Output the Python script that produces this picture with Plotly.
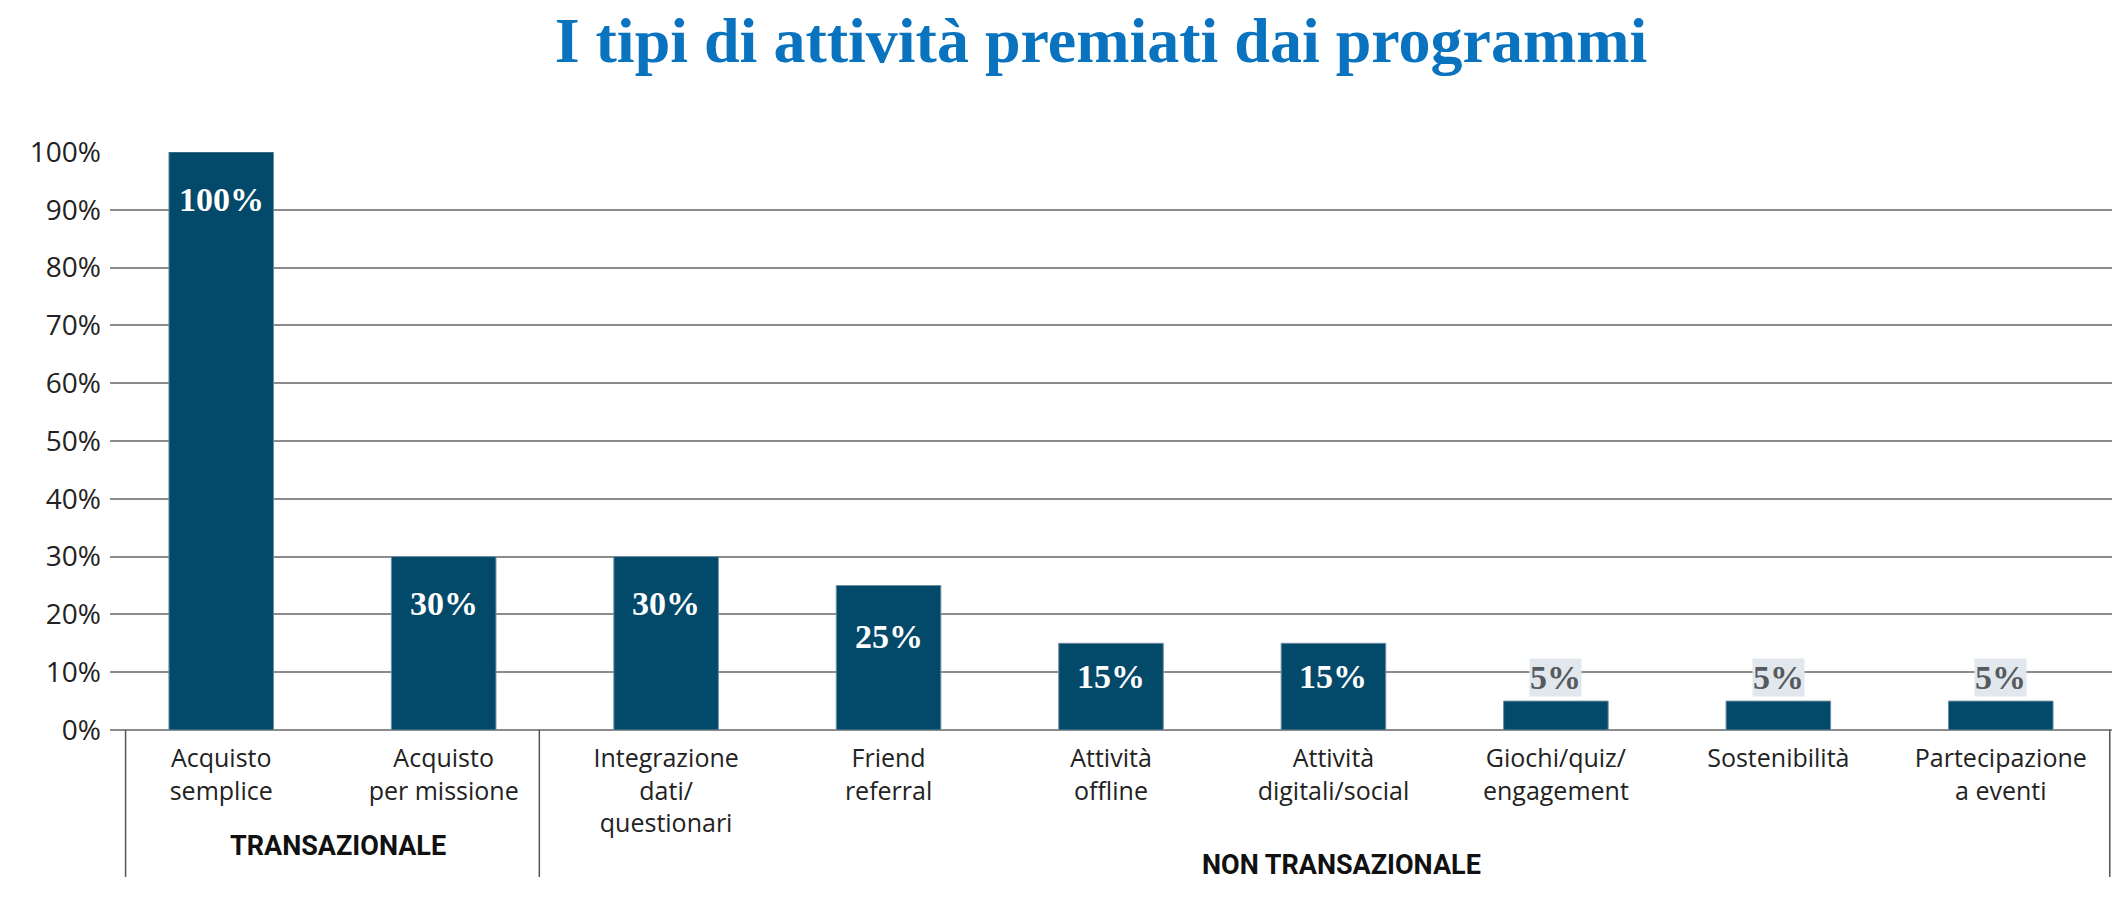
import plotly.graph_objects as go

categories = ["Acquisto<br>semplice", "Acquisto<br>per missione", "Integrazione<br>dati/<br>questionari",
              "Friend<br>referral", "Attività<br>offline", "Attività<br>digitali/social",
              "Giochi/quiz/<br>engagement", "Sostenibilità", "Partecipazione<br>a eventi"]
values = [100, 30, 30, 25, 15, 15, 5, 5, 5]
value_labels = ["100%", "30%", "30%", "25%", "15%", "15%", "5%", "5%", "5%"]
y_ticks = [0, 10, 20, 30, 40, 50, 60, 70, 80, 90, 100]
y_tick_labels = [f"{v}%" for v in y_ticks]
groups = ["TRANSAZIONALE", "NON TRANSAZIONALE"]

W, H = 2112, 901
L, R, T, B = 110, 0, 152, 171
BAR = "#03496A"

x_idx = list(range(len(categories)))

fig = go.Figure()
fig.add_trace(go.Bar(
    x=x_idx, y=values, width=0.47,
    marker=dict(color=BAR, line=dict(color="#6f8ea2", width=1)),
    hoverinfo="skip",
))

annotations = []
for i, (v, lab) in enumerate(zip(values, value_labels)):
    if v >= 10:
        shift = -47 if v >= 30 else (-51 if v >= 20 else -33)
        annotations.append(dict(x=i, y=v, xref="x", yref="y", text=f"<b>{lab}</b>", showarrow=False,
                                yanchor="middle", yshift=shift,
                                font=dict(family="Liberation Serif, serif", size=34, color="white")))
    else:
        annotations.append(dict(x=i, y=v, xref="x", yref="y", text=f"<b>{lab}</b>", showarrow=False,
                                yanchor="bottom", yshift=4, bgcolor="#e1e7ed", borderpad=0,
                                font=dict(family="Liberation Serif, serif", size=34, color="#555a5e")))

plot_h = H - T - B
def py(pix):
    return (H - B - pix) / plot_h

def px(pix):
    return (pix - L) / (W - L - R)

annotations.append(dict(x=px(338), y=py(846), xref="paper", yref="paper", text=f"<b>{groups[0]}</b>",
                        showarrow=False, xanchor="center", yanchor="middle",
                        font=dict(family="Liberation Sans Narrow, Roboto, sans-serif", size=27, color="#111")))
annotations.append(dict(x=px(1341), y=py(865), xref="paper", yref="paper", text=f"<b>{groups[1]}</b>",
                        showarrow=False, xanchor="center", yanchor="middle",
                        font=dict(family="Liberation Sans Narrow, Roboto, sans-serif", size=27, color="#111")))

shapes = []
for xs in [-0.43, 1.43, 8.49]:
    shapes.append(dict(type="line", xref="x", yref="paper", x0=xs, x1=xs, y0=0, y1=py(877),
                       line=dict(color="#555555", width=1.5)))

fig.update_layout(
    width=W, height=H,
    margin=dict(l=L, r=R, t=T, b=B, autoexpand=False),
    paper_bgcolor="white", plot_bgcolor="white",
    showlegend=False,
    title=dict(text="<b>I tipi di attività premiati dai programmi</b>", x=(1101) / W, xanchor="center",
               y=1 - 40 / H, yanchor="middle",
               font=dict(family="Liberation Serif, serif", size=64, color="#0A73BF")),
    xaxis=dict(range=[-0.5, 8.5], tickmode="array", tickvals=x_idx, ticktext=categories,
               showgrid=False, zeroline=False, showline=False, ticks="",
               ticklabelstandoff=11,
               tickfont=dict(family="Open Sans, sans-serif", size=25, color="#222"),
               fixedrange=True),
    yaxis=dict(range=[0, 100], tickmode="array", tickvals=y_ticks, ticktext=y_tick_labels,
               showgrid=True, gridcolor="#8c8c8c", gridwidth=1.5, zeroline=True,
               zerolinecolor="#8c8c8c", zerolinewidth=2, showline=False, ticks="",
               ticklabelstandoff=8,
               tickfont=dict(family="Open Sans, sans-serif", size=28, color="#222"),
               fixedrange=True),
    annotations=annotations, shapes=shapes,
)
fig.write_html("out.html")
